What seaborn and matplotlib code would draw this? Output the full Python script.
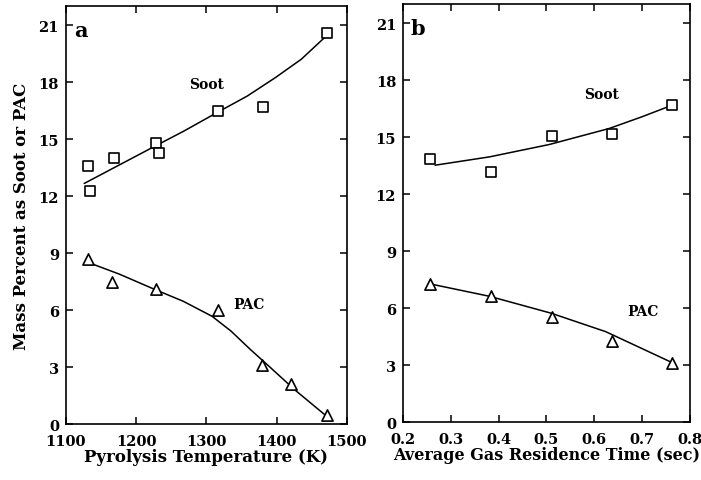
import pandas as pd
import matplotlib
matplotlib.use('Agg')
import matplotlib.pyplot as plt
import seaborn as sns

# dados - painel a (temperatura de pirolise)
temp_soot = [1132, 1134, 1168, 1228, 1232, 1316, 1380, 1472]
soot_a = [13.6, 12.3, 14.0, 14.8, 14.3, 16.5, 16.7, 20.6]
temp_pac = [1132, 1166, 1228, 1316, 1379, 1420, 1472]
pac_a = [8.7, 7.5, 7.1, 6.0, 3.1, 2.1, 0.5]

# curvas ajustadas
temp_fit_soot = [1126, 1167, 1226, 1267, 1314, 1358, 1398, 1435, 1471]
soot_fit_a = [12.67, 13.47, 14.62, 15.41, 16.38, 17.27, 18.24, 19.21, 20.45]
temp_fit_pac = [1129, 1176, 1226, 1267, 1308, 1335, 1362, 1389, 1426, 1471]
pac_fit_a = [8.55, 7.9, 7.1, 6.47, 5.68, 4.9, 3.95, 3.05, 1.8, 0.42]

# painel b (tempo de residencia)
tempo = [0.257, 0.383, 0.512, 0.638, 0.762]
soot_b = [13.85, 13.15, 15.05, 15.15, 16.7]
pac_b = [7.3, 6.65, 5.55, 4.3, 3.1]
tempo_fit_soot = [0.267, 0.381, 0.506, 0.631, 0.70, 0.76]
soot_fit_b = [13.53, 13.97, 14.62, 15.46, 16.08, 16.66]
tempo_fit_pac = [0.263, 0.381, 0.51, 0.624, 0.70, 0.763]
pac_fit_b = [7.25, 6.63, 5.74, 4.77, 3.88, 3.14]

y_ticks = [0, 3, 6, 9, 12, 15, 18, 21]

sns.set_style('ticks')
plt.rcParams['font.family'] = ['DejaVu Serif']
plt.rcParams['font.weight'] = 'bold'
plt.rcParams['text.color'] = 'black'
plt.rcParams['axes.labelcolor'] = 'black'
plt.rcParams['xtick.color'] = 'black'
plt.rcParams['ytick.color'] = 'black'
plt.rcParams['axes.edgecolor'] = 'black'
plt.rcParams['xtick.direction'] = 'in'
plt.rcParams['ytick.direction'] = 'in'
plt.rcParams['xtick.top'] = True
plt.rcParams['ytick.right'] = True
plt.rcParams['axes.linewidth'] = 1.2

fig = plt.figure(figsize=(7.01, 4.81), dpi=100)
ax_a = fig.add_axes([0.094, 0.116, 0.401, 0.869])
ax_b = fig.add_axes([0.575, 0.12, 0.409, 0.869])

df_sa = pd.DataFrame({'x': temp_soot, 'y': soot_a})
df_pa = pd.DataFrame({'x': temp_pac, 'y': pac_a})
df_fsa = pd.DataFrame({'x': temp_fit_soot, 'y': soot_fit_a})
df_fpa = pd.DataFrame({'x': temp_fit_pac, 'y': pac_fit_a})
df_sb = pd.DataFrame({'x': tempo, 'y': soot_b})
df_pb = pd.DataFrame({'x': tempo, 'y': pac_b})
df_fsb = pd.DataFrame({'x': tempo_fit_soot, 'y': soot_fit_b})
df_fpb = pd.DataFrame({'x': tempo_fit_pac, 'y': pac_fit_b})

for ax, fs, fp, ds, dp in [(ax_a, df_fsa, df_fpa, df_sa, df_pa),
                           (ax_b, df_fsb, df_fpb, df_sb, df_pb)]:
    sns.lineplot(data=fs, x='x', y='y', ax=ax, color='black', lw=1.1, sort=False)
    sns.lineplot(data=fp, x='x', y='y', ax=ax, color='black', lw=1.1, sort=False)
    sns.scatterplot(data=ds, x='x', y='y', ax=ax, marker='s', s=50,
                    facecolor='white', edgecolor='black', linewidth=1.2, zorder=3)
    sns.scatterplot(data=dp, x='x', y='y', ax=ax, marker='^', s=65,
                    facecolor='white', edgecolor='black', linewidth=1.2, zorder=3)
    ax.set_ylim(0, 22)
    ax.set_yticks(y_ticks)
    ax.tick_params(labelsize=10.5, length=5, width=1.1)
    ax.tick_params(axis='x', pad=7)
    ax.tick_params(axis='y', pad=5)
    for lab in ax.get_xticklabels() + ax.get_yticklabels():
        lab.set_fontweight('bold')

ax_a.set_xlim(1100, 1500)
ax_a.set_xticks([1100, 1200, 1300, 1400, 1500])
ax_b.set_xlim(0.2, 0.8)
ax_b.set_xticks([0.2, 0.3, 0.4, 0.5, 0.6, 0.7, 0.8])
ax_b.set_xticklabels(['0.2', '0.3', '0.4', '0.5', '0.6', '0.7', '0.8'], fontweight='bold')

ax_a.set_xlabel('Pyrolysis Temperature (K)', fontsize=12, fontweight='bold', labelpad=0)
ax_a.set_ylabel('Mass Percent as Soot or PAC', fontsize=12, fontweight='bold', labelpad=6)
ax_b.set_xlabel('Average Gas Residence Time (sec)', fontsize=11.5, fontweight='bold', labelpad=0)
ax_b.set_ylabel('')

ax_a.text(1112, 20.75, 'a', fontsize=15, fontweight='bold', va='center')
ax_a.text(1300, 17.9, 'Soot', fontsize=10, fontweight='bold', ha='center', va='center')
ax_a.text(1360, 6.35, 'PAC', fontsize=10, fontweight='bold', ha='center', va='center')
ax_b.text(0.215, 20.75, 'b', fontsize=15, fontweight='bold', va='center')
ax_b.text(0.615, 17.3, 'Soot', fontsize=10, fontweight='bold', ha='center', va='center')
ax_b.text(0.702, 5.85, 'PAC', fontsize=10, fontweight='bold', ha='center', va='center')

plt.savefig('out.png', dpi=100)
